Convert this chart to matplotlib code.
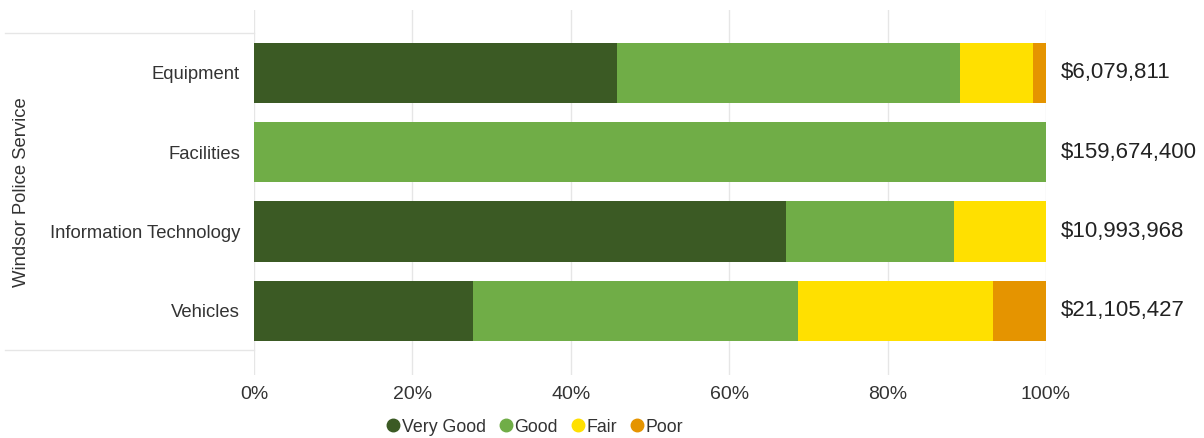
import matplotlib.pyplot as plt
from matplotlib.lines import Line2D
import matplotlib.transforms as mtransforms

plt.rcParams['font.family'] = ['Liberation Sans', 'DejaVu Sans']

# data
categories = ['Equipment', 'Facilities', 'Information Technology', 'Vehicles']
very_good = [45.8, 0.0, 67.2, 27.7]
good = [43.3, 100.0, 21.2, 41.0]
fair = [9.2, 0.0, 11.6, 24.6]
poor = [1.7, 0.0, 0.0, 6.7]
totals = [6079811, 159674400, 10993968, 21105427]
group_label = 'Windsor Police Service'
series_names = ['Very Good', 'Good', 'Fair', 'Poor']
colors = ['#3b5a24', '#70ad47', '#ffe000', '#e59400']
xticks = [0, 20, 40, 60, 80, 100]

fig = plt.figure(figsize=(12.04, 4.38), dpi=100)
ax = fig.add_axes([254 / 1204, 63 / 438, 792 / 1204, 365 / 438])

y = list(range(len(categories)))
left = [0.0] * len(categories)
for vals, name, c in zip([very_good, good, fair, poor], series_names, colors):
    ax.barh(y, vals, left=left, height=0.76, color=c, label=name, zorder=3)
    left = [l + v for l, v in zip(left, vals)]

ax.set_xlim(0, 100)
ax.set_ylim(3.5 + 0.31, -0.5 - 0.29)
ax.set_xticks(xticks)
ax.set_xticklabels([f'{t}%' for t in xticks], fontsize=14, color='#333333')
ax.set_yticks(y)
ax.set_yticklabels(categories, fontsize=13.3, color='#333333')
ax.tick_params(length=0, pad=10)
ax.tick_params(axis='x', pad=8)
for s in ax.spines.values():
    s.set_visible(False)
ax.grid(axis='x', color='#e6e6e6', linewidth=1, zorder=0)
ax.set_axisbelow(True)

# totals on the right
for yi, t in zip(y, totals):
    ax.text(101.9, yi, f'${t:,}', va='center', ha='left', fontsize=16,
            color='#222222', clip_on=False)

# group label with separator lines
trans = mtransforms.blended_transform_factory(ax.transAxes, ax.transData)
for yl in [-0.5, 3.5]:
    ax.add_line(Line2D([-0.315, 0], [yl, yl], transform=trans, color='#e6e6e6',
                       linewidth=1, clip_on=False))
ax.text(-0.293, 1.5, group_label, transform=trans, rotation=90, va='center',
        ha='center', fontsize=13.3, color='#333333')

handles = [Line2D([], [], marker='o', linestyle='', markersize=9, color=c)
           for c in colors]
fig.legend(handles, series_names, loc='center', bbox_to_anchor=(535 / 1204, 1 - 427 / 438),
           ncol=4, frameon=False, fontsize=12.8, handlelength=0.7, handletextpad=0.15,
           columnspacing=0.75, labelcolor='#333333', borderpad=0)

fig.savefig('out.png', dpi=100)
